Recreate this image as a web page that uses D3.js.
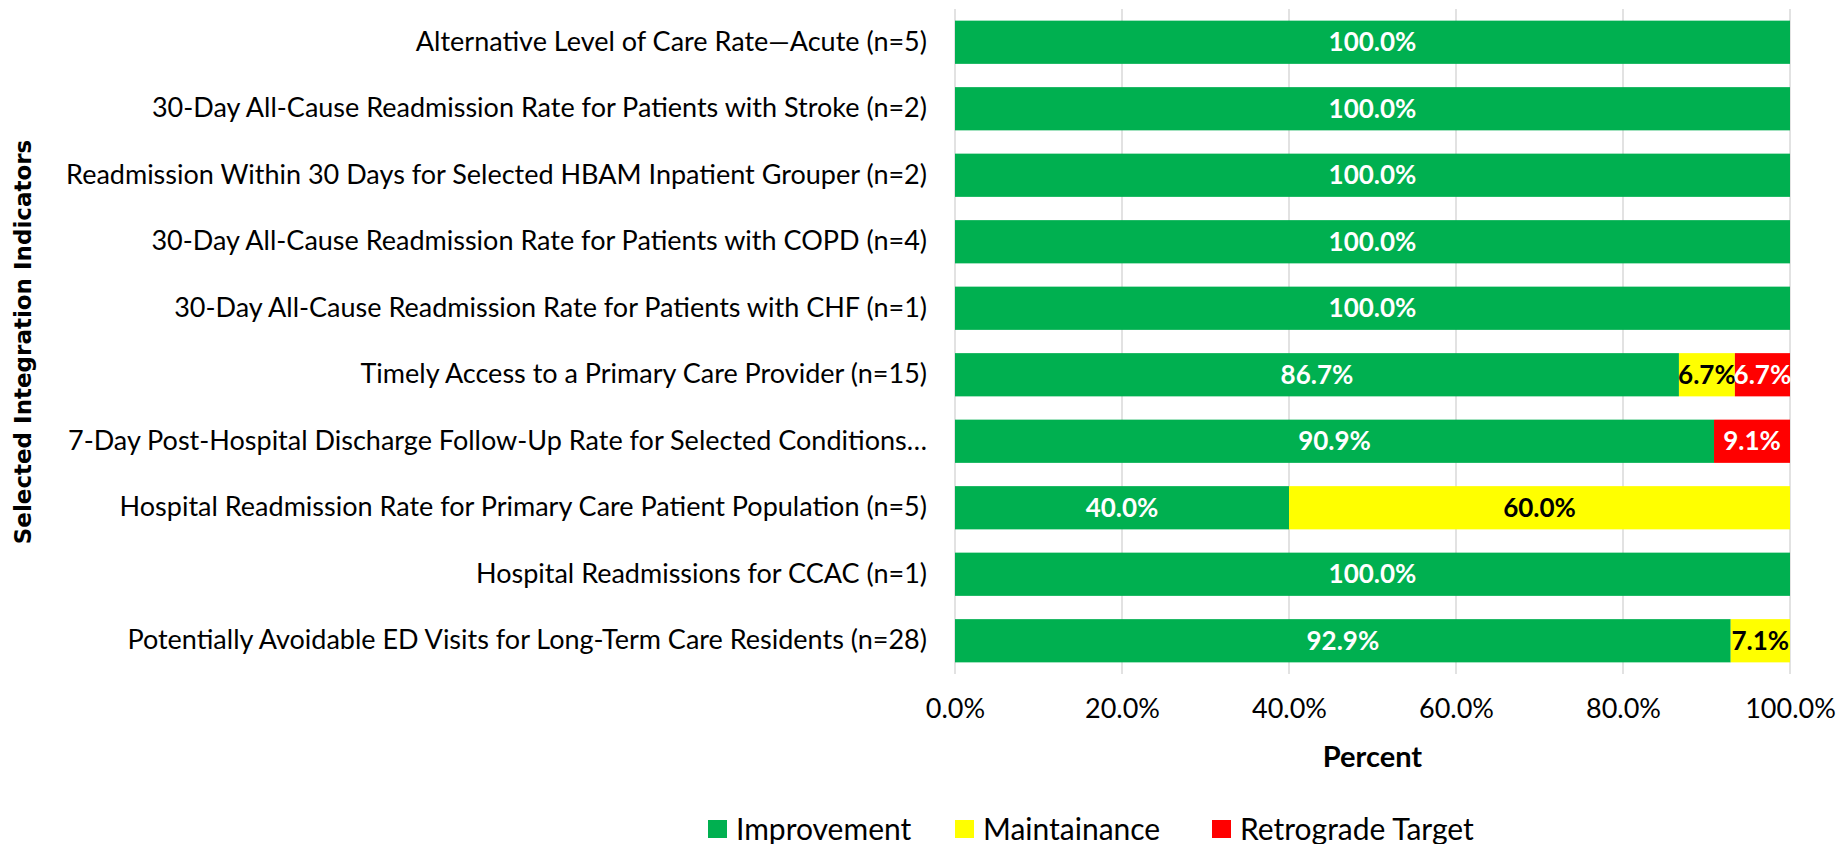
<!DOCTYPE html>
<html>
<head>
<meta charset="utf-8">
<script src="https://cdn.jsdelivr.net/npm/d3@7"></script>
<style>
  body { margin: 0; background: #fff; }
  text { font-family: Lato, "Noto Sans", sans-serif; }
</style>
</head>
<body>
<div id="chart"></div>
<script>
// categories top to bottom
var categories = [
	"Alternative Level of Care Rate\u2014Acute (n=5)",
	"30-Day All-Cause Readmission Rate for Patients with Stroke (n=2)",
	"Readmission Within 30 Days for Selected HBAM Inpatient Grouper (n=2)",
	"30-Day All-Cause Readmission Rate for Patients with COPD (n=4)",
	"30-Day All-Cause Readmission Rate for Patients with CHF (n=1)",
	"Timely Access to a Primary Care Provider (n=15)",
	"7-Day Post-Hospital Discharge Follow-Up Rate for Selected Conditions\u2026",
	"Hospital Readmission Rate for Primary Care Patient Population (n=5)",
	"Hospital Readmissions for CCAC (n=1)",
	"Potentially Avoidable ED Visits for Long-Term Care Residents (n=28)"
];
var improvement = [100, 100, 100, 100, 100, 86.7, 90.9, 40.0, 100, 92.9];
var maintainance = [0, 0, 0, 0, 0, 6.7, 0, 60.0, 0, 7.1];
var retrograde = [0, 0, 0, 0, 0, 6.7, 9.1, 0, 0, 0];

var seriesNames = ["Improvement", "Maintainance", "Retrograde Target"];
var seriesColors = ["#00B050", "#FFFF00", "#FF0000"];
var labelColors = ["#FFFFFF", "#000000", "#FFFFFF"];
var xTicks = [0, 20, 40, 60, 80, 100];

var width = 1837, height = 844;
var margin = {top: 9, right: 47, bottom: 170, left: 955};

var svg = d3.select("#chart").append("svg")
	.attr("width", width)
	.attr("height", height);

var rows = categories.map(function(c, i) {
	return {cat: c, Improvement: improvement[i], Maintainance: maintainance[i], "Retrograde Target": retrograde[i]};
});
var stacked = d3.stack().keys(seriesNames)(rows);

var x = d3.scaleLinear().domain([0, 100]).range([margin.left, width - margin.right]);
var y = d3.scaleBand().domain(categories).range([margin.top, height - margin.bottom]).paddingInner(0.35).paddingOuter(0.175);

//gridlines
svg.append("g").selectAll("line")
	.data(xTicks)
	.enter().append("line")
	.attr("x1", function(d) { return x(d); })
	.attr("x2", function(d) { return x(d); })
	.attr("y1", margin.top)
	.attr("y2", height - margin.bottom)
	.style("stroke", "#D9D9D9")
	.style("stroke-width", "1.5px");

//x axis tick labels
var xAxis = d3.axisBottom(x).tickValues(xTicks).tickSize(0).tickPadding(0)
	.tickFormat(function(d) { return d.toFixed(1) + "%"; });
var gx = svg.append("g")
	.attr("transform", "translate(0," + (height - margin.bottom + 26) + ")")
	.call(xAxis);
gx.select(".domain").remove();
gx.attr("font-family", null).attr("font-size", null);
gx.selectAll("text")
	.attr("dy", "0.32em")
	.attr("y", 9)
	.style("font-size", "27px")
	.style("fill", "#000");

//y axis category labels
var yAxis = d3.axisLeft(y).tickSize(0).tickPadding(28);
var gy = svg.append("g")
	.attr("transform", "translate(" + margin.left + ",0)")
	.call(yAxis);
gy.select(".domain").remove();
gy.attr("font-family", null).attr("font-size", null);
gy.selectAll("text")
	.style("font-size", "27px")
	.style("fill", "#000");

//stacked bars
var layer = svg.append("g").selectAll("g")
	.data(stacked)
	.enter().append("g")
	.style("fill", function(d, i) { return seriesColors[i]; });

layer.selectAll("rect")
	.data(function(d) { return d; })
	.enter().append("rect")
	.attr("x", function(d) { return x(d[0]); })
	.attr("y", function(d) { return y(d.data.cat); })
	.attr("width", function(d) { return Math.max(0, Math.min(x(d[1]), x(100)) - x(d[0])); })
	.attr("height", y.bandwidth());

//data labels
stacked.forEach(function(s, si) {
	svg.append("g").selectAll("text")
		.data(s.filter(function(d) { return d[1] - d[0] > 0; }))
		.enter().append("text")
		.attr("x", function(d) { return (x(d[0]) + Math.min(x(d[1]), x(100))) / 2; })
		.attr("y", function(d) { return y(d.data.cat) + y.bandwidth() / 2; })
		.attr("dy", "0.35em")
		.attr("text-anchor", "middle")
		.style("font-weight", "bold")
		.style("font-size", "26px")
		.style("fill", labelColors[si])
		.text(function(d) { return (d[1] - d[0]).toFixed(1) + "%"; });
});

//axis titles
svg.append("text")
	.attr("x", (x(0) + x(100)) / 2)
	.attr("y", 757)
	.attr("dy", "0.35em")
	.attr("text-anchor", "middle")
	.style("font-weight", "bold")
	.style("font-size", "29px")
	.text("Percent");

svg.append("text")
	.attr("transform", "translate(23," + 342 + ") rotate(-90)")
	.attr("dy", "0.35em")
	.attr("text-anchor", "middle")
	.style("font-family", "DejaVu Sans")
	.style("font-weight", "bold")
	.style("font-size", "23px")
	.text("Selected Integration Indicators");

//legend
var legendX = [708, 955, 1212];
var legend = svg.append("g").selectAll("g")
	.data(seriesNames)
	.enter().append("g")
	.attr("transform", function(d, i) { return "translate(" + legendX[i] + ",829)"; });
legend.append("rect")
	.attr("x", 0)
	.attr("y", -9)
	.attr("width", 19)
	.attr("height", 18)
	.style("fill", function(d, i) { return seriesColors[i]; });
legend.append("text")
	.attr("x", 28)
	.attr("dy", "0.35em")
	.style("font-size", "30px")
	.text(function(d) { return d; });
</script>
</body>
</html>
